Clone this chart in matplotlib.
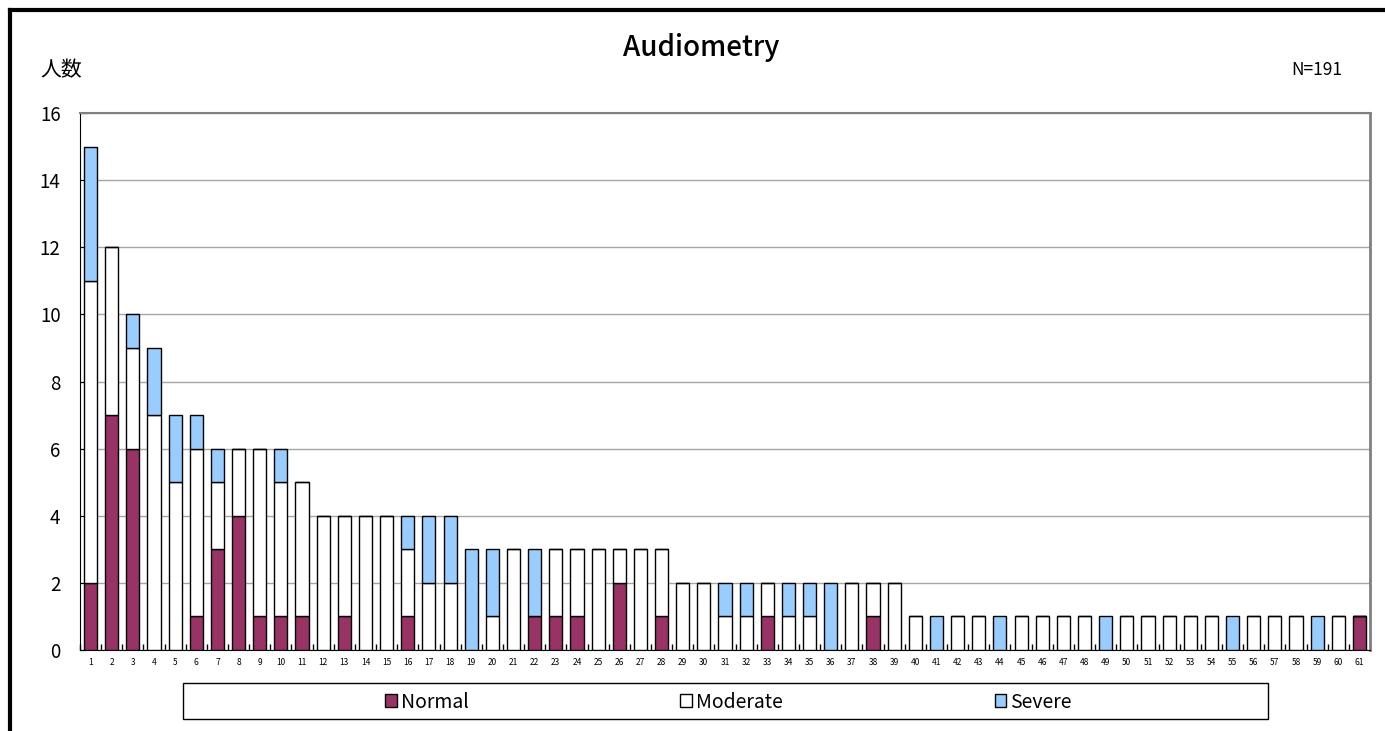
import numpy as np
import matplotlib.pyplot as plt
from matplotlib.patches import Rectangle
from matplotlib.lines import Line2D

# ---- data -----------------------------------------------------------------
categories = list(range(1, 62))
normal = [2, 7, 6, 0, 0, 1, 3, 4, 1, 1, 1, 0, 1, 0, 0, 1, 0, 0, 0, 0,
          0, 1, 1, 1, 0, 2, 0, 1, 0, 0, 0, 0, 1, 0, 0, 0, 0, 1, 0, 0,
          0, 0, 0, 0, 0, 0, 0, 0, 0, 0, 0, 0, 0, 0, 0, 0, 0, 0, 0, 0, 1]
moderate = [9, 5, 3, 7, 5, 5, 2, 2, 5, 4, 4, 4, 3, 4, 4, 2, 2, 2, 0, 1,
            3, 0, 2, 2, 3, 1, 3, 2, 2, 2, 1, 1, 1, 1, 1, 0, 2, 1, 2, 1,
            0, 1, 1, 0, 1, 1, 1, 1, 0, 1, 1, 1, 1, 1, 0, 1, 1, 1, 0, 1, 0]
severe = [4, 0, 1, 2, 2, 1, 1, 0, 0, 1, 0, 0, 0, 0, 0, 1, 2, 2, 3, 2,
          0, 2, 0, 0, 0, 0, 0, 0, 0, 0, 1, 1, 0, 1, 1, 2, 0, 0, 0, 0,
          1, 0, 0, 1, 0, 0, 0, 0, 1, 0, 0, 0, 0, 0, 1, 0, 0, 0, 1, 0, 0]
series_names = ['Normal', 'Moderate', 'Severe']
title = 'Audiometry'
y_label = '人数'
n_label = 'N=191'

NORMAL_C = '#993366'
MODERATE_C = '#FFFFFF'
SEVERE_C = '#99CCFF'
GRID = '#A6A6A6'
FRAME = '#808080'

plt.rcParams['font.family'] = ['Noto Sans CJK JP', 'DejaVu Sans']

fig = plt.figure(figsize=(13.85, 7.31), dpi=100)
ax = fig.add_axes([80 / 1385, 81 / 731, 1290 / 1385, 537 / 731])

x = np.array(categories)
normal = np.array(normal)
moderate = np.array(moderate)
severe = np.array(severe)
w = 0.62
ax.bar(x, normal, w, color=NORMAL_C, edgecolor='black', linewidth=1.0,
       label=series_names[0], zorder=3)
ax.bar(x, moderate, w, bottom=normal, color=MODERATE_C, edgecolor='black',
       linewidth=1.0, label=series_names[1], zorder=3)
ax.bar(x, severe, w, bottom=normal + moderate, color=SEVERE_C,
       edgecolor='black', linewidth=1.0, label=series_names[2], zorder=3)

ax.set_xlim(0.5, len(categories) + 0.5)
ax.set_ylim(0, 16)
ax.set_yticks(range(0, 17, 2))
ax.set_xticks(x)
ax.set_xticklabels([str(c) for c in categories], fontsize=6)
ax.set_xticks(np.arange(0.5, len(categories) + 1), minor=True)
ax.tick_params(axis='x', which='major', length=0, pad=6)
ax.tick_params(axis='x', which='minor', direction='in', length=4,
               width=1, color='black')
ax.tick_params(axis='y', direction='in', length=5, labelsize=13.5, pad=14)
ax.grid(axis='y', color=GRID, linewidth=1.0, zorder=0)

ax.spines['left'].set_color('black')
ax.spines['bottom'].set_color('black')
ax.spines['top'].set_color(FRAME)
ax.spines['right'].set_color(FRAME)
ax.spines['top'].set_linewidth(1.5)
ax.spines['right'].set_linewidth(2.0)

fig.text(701 / 1385, 1 - 48 / 731, title, ha='center', va='center',
         fontsize=20, fontweight='medium')
fig.text(40 / 1385, 1 - 70 / 731, y_label, ha='left', va='center', fontsize=15)
fig.text(1342 / 1385, 1 - 70 / 731, n_label, ha='right', va='center',
         fontsize=12.5)

# legend frame + entries
fig.add_artist(Rectangle((183 / 1385, 1 - 719 / 731), 1085 / 1385, 36 / 731,
                         transform=fig.transFigure, facecolor='white',
                         edgecolor='black', linewidth=1.0))
fig.legend(loc='center', bbox_to_anchor=(728.5 / 1385, 1 - 702 / 731),
           ncol=3, frameon=False, fontsize=14, handlelength=0.6,
           handleheight=0.6, handletextpad=0.2, columnspacing=10.9)

# outer chart border (cropped on right/bottom in reference)
fig.add_artist(Line2D([10 / 1385, 10 / 1385], [0, 1 - 10 / 731],
                      transform=fig.transFigure, color='black', linewidth=3))
fig.add_artist(Line2D([10 / 1385, 1], [1 - 10 / 731, 1 - 10 / 731],
                      transform=fig.transFigure, color='black', linewidth=3))

fig.savefig('out.png', dpi=100, facecolor='white')
